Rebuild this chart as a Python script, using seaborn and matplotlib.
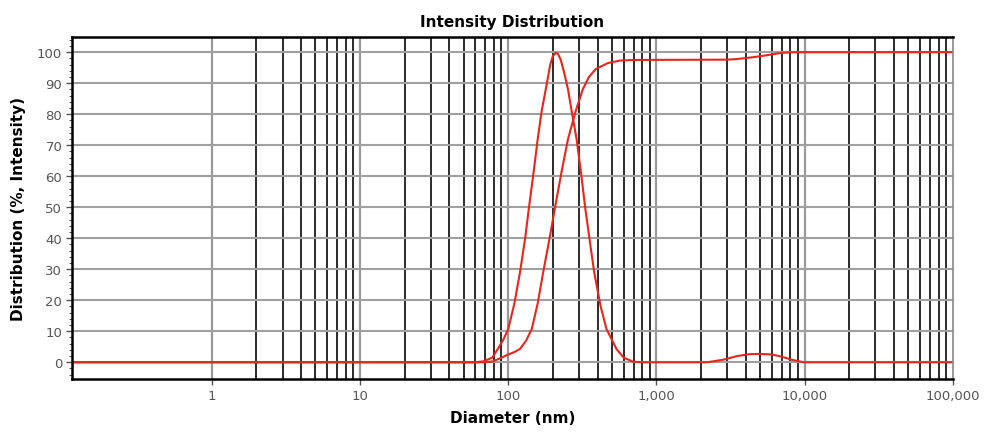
import numpy as np
import pandas as pd
import matplotlib
matplotlib.use("Agg")
import matplotlib.pyplot as plt
import matplotlib.ticker as mticker
import seaborn as sns

# intensity distribution (size in nm, %)
dist_size = [0.1, 60, 68, 78, 85, 92, 100, 110, 120, 130, 138, 148, 158, 168, 179, 192,
             200, 209, 217, 226, 238, 253, 270, 289, 310, 330, 355, 380, 420, 460, 537,
             600, 694, 800, 2200, 2800, 3500, 4200, 5000, 6000, 7000, 8200, 9800, 100000]
dist_val = [0, 0, 0.3, 1.5, 4.3, 7, 10.7, 19, 29, 40, 50, 61, 72, 81, 88, 96,
            98.8, 99.8, 99.4, 97.5, 93.5, 88, 80, 72, 61, 50, 39, 29, 18, 10.7, 4.3,
            1.5, 0.2, 0, 0, 0.8, 2.0, 2.6, 2.7, 2.5, 1.8, 0.8, 0, 0]

# cumulative curve
cum_size = [0.1, 70, 79, 90, 100, 110, 120, 132, 144, 158, 172, 190, 207, 230, 253, 285,
            318, 350, 390, 470, 565, 700, 3000, 3500, 4500, 5500, 7000, 8500, 100000]
cum_val = [0, 0, 0.3, 1.5, 2.5, 3.3, 4.3, 7, 10.7, 19, 29, 40, 50, 62, 72, 81,
           88, 92, 94.6, 96.5, 97.3, 97.5, 97.6, 97.8, 98.4, 99, 99.8, 100, 100]

x_ticks = [1, 10, 100, 1000, 10000, 100000]
x_labels = ["1", "10", "100", "1,000", "10,000", "100,000"]

sns.set_style("white")
plt.rcParams['font.family'] = ['DejaVu Sans']

fig = plt.figure(figsize=(9.86, 4.35), dpi=100)
ax = fig.add_axes([0.073, 0.1264, 0.8935, 0.7862])

red = "#e8261c"
sns.lineplot(x=dist_size, y=dist_val, ax=ax, color=red, lw=1.5, estimator=None, sort=False)
sns.lineplot(x=cum_size, y=cum_val, ax=ax, color=red, lw=1.5, estimator=None, sort=False)

ax.set_xscale("log")
ax.set_xlim(0.114, 100000)
ax.set_ylim(-5.4, 104.9)

# grid: decades grey, in-between lines black
for dec in [1, 10, 100, 1000, 10000]:
    ax.axvline(dec, color="#9a9a9a", lw=1.6, zorder=0)
    for m in range(2, 10):
        ax.axvline(dec * m, color="#1a1a1a", lw=1.3, zorder=0)
for yv in range(0, 101, 10):
    ax.axhline(yv, color="#a0a0a0", lw=1.5, zorder=0)

ax.set_xticks(x_ticks)
ax.set_xticklabels(x_labels)
ax.xaxis.set_minor_locator(mticker.NullLocator())
ax.set_yticks(range(0, 101, 10))
ax.yaxis.set_minor_locator(mticker.MultipleLocator(2))
ax.tick_params(axis="both", which="major", length=4, width=1, color="#555555",
               labelsize=9.5, labelcolor="#555555", pad=3)
ax.tick_params(axis="y", which="minor", length=2, width=0.8, color="#555555", left=True)
ax.tick_params(axis="x", bottom=True)
ax.tick_params(axis="y", left=True)

for side in ["left", "bottom", "top"]:
    ax.spines[side].set_color("black")
    ax.spines[side].set_linewidth(1.8)
ax.spines["right"].set_color("#888888")
ax.spines["right"].set_linewidth(1.2)

ax.set_title("Intensity Distribution", fontsize=11, fontweight="bold", pad=8, color="black")
ax.set_xlabel("Diameter (nm)", fontsize=11, fontweight="bold", labelpad=6, color="black")
ax.set_ylabel("Distribution (%, Intensity)", fontsize=11, fontweight="bold", labelpad=8, color="black")

fig.savefig("out.png", dpi=100)
